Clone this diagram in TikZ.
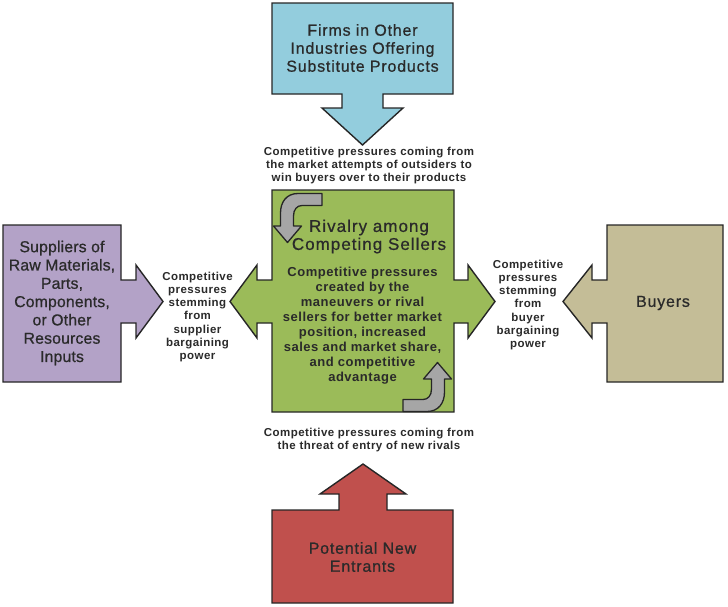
\documentclass[tikz,border=0pt]{standalone}
\usepackage{fontspec}
\setmainfont{Liberation Sans}
\newfontfamily\boxfont[LetterSpace=5,FakeBold=0.7]{Liberation Sans}
\newfontfamily\narrowboxfont[LetterSpace=1,FakeBold=0.7]{Liberation Sans}
\newfontfamily\titlefont[LetterSpace=6,FakeBold=0.7]{Liberation Sans}
\newfontfamily\bodyfont[LetterSpace=4]{Liberation Sans}
\newfontfamily\labfont[LetterSpace=4]{Liberation Sans}
\definecolor{cblue}{HTML}{93CDDD}
\definecolor{cpurple}{HTML}{B3A2C7}
\definecolor{cgreen}{HTML}{9BBB59}
\definecolor{ctan}{HTML}{C4BD97}
\definecolor{cred}{HTML}{C0504D}
\definecolor{cgrey}{HTML}{A6A6A6}
\definecolor{outl}{HTML}{262626}
\definecolor{txt}{HTML}{2A2A2A}
\begin{document}
\begin{tikzpicture}[x=1pt,y=-1pt,
  blockshape/.style={draw=outl, line width=1.4pt, line join=miter},
  bentarrow/.style={draw=outl, fill=cgrey, line width=1.3pt, line join=round},
  boxtext/.style={inner sep=0pt, align=center, text=txt, font=\boxfont\fontsize{16}{18}\selectfont},
  narrowboxtext/.style={inner sep=0pt, align=center, text=txt, font=\narrowboxfont\fontsize{15.8}{18.3}\selectfont},
  titletext/.style={inner sep=0pt, align=center, text=txt, font=\titlefont\fontsize{17}{18}\selectfont},
  bodytext/.style={inner sep=0pt, align=center, text=txt, font=\bodyfont\bfseries\fontsize{13}{15}\selectfont},
  labeltext/.style={inner sep=0pt, align=center, text=txt, font=\labfont\bfseries\fontsize{11.5}{13.3}\selectfont}]
\useasboundingbox (0,0) rectangle (728,606);

% substitutes (top)
\path[blockshape, fill=cblue] (272,3) -- (453,3) -- (453,94) -- (383,94) -- (383,108) -- (403,108)
  -- (362.5,145) -- (322,108) -- (342,108) -- (342,94) -- (272,94) -- cycle;
% new entrants (bottom)
\path[blockshape, fill=cred] (272,603) -- (453,603) -- (453,510) -- (387,510) -- (387,494) -- (406,494)
  -- (363,464) -- (320,494) -- (339,494) -- (339,510) -- (272,510) -- cycle;
% suppliers (left)
\path[blockshape, fill=cpurple] (3,225) -- (121,225) -- (121,280) -- (136,280) -- (136,265) -- (163,301.5)
  -- (136,338) -- (136,323) -- (121,323) -- (121,382) -- (3,382) -- cycle;
% buyers (right)
\path[blockshape, fill=ctan] (723,225) -- (607,225) -- (607,280) -- (592,280) -- (592,265) -- (563,301.5)
  -- (592,338) -- (592,323) -- (607,323) -- (607,382) -- (723,382) -- cycle;
% rivalry (centre)
\path[blockshape, fill=cgreen] (272,190) -- (454,190) -- (454,280) -- (468,280) -- (468,265) -- (495,301.5)
  -- (468,338) -- (468,323) -- (454,323) -- (454,412) -- (272,412) -- (272,323) -- (257,323) -- (257,338)
  -- (230,301.5) -- (257,265) -- (257,280) -- (272,280) -- cycle;

% bent arrows
\path[bentarrow] (322,193.5) -- (298,193.5) .. controls (286.5,193.5) and (280.5,202) .. (280.5,213) -- (280.5,226)
  -- (273.5,226) -- (287.5,242.5) -- (301.5,226) -- (293.5,226) -- (293.5,216) .. controls (293.5,209.5) and (297,205.5) .. (302,205.5)
  -- (322,205.5) -- cycle;
\begin{scope}[rotate around={180:(362.5,302.5)}]
\path[bentarrow] (322,193.5) -- (298,193.5) .. controls (286.5,193.5) and (280.5,202) .. (280.5,213) -- (280.5,226)
  -- (273.5,226) -- (287.5,242.5) -- (301.5,226) -- (293.5,226) -- (293.5,216) .. controls (293.5,209.5) and (297,205.5) .. (302,205.5)
  -- (322,205.5) -- cycle;
\end{scope}

% texts
\node[boxtext] (subst) at (362.5,48) {Firms in Other\\Industries Offering\\Substitute Products};
\node[narrowboxtext] (suppl) at (62,303) {Suppliers of\\Raw Materials,\\Parts,\\Components,\\or Other\\Resources\\Inputs};
\node[boxtext] (buyers) at (663,303) {Buyers};
\node[boxtext] (entr) at (362.5,557) {Potential New\\Entrants};
\node[titletext] (rival) at (369,236.5) {Rivalry among\\Competing Sellers};
\node[bodytext] (rivbody) at (362.5,326) {Competitive pressures\\created by the\\maneuvers or rival\\sellers for better market\\position, increased\\sales and market share,\\and competitive\\advantage};
\node[labeltext] (ltop) at (369,165.5) {Competitive pressures coming from\\the market attempts of outsiders to\\win buyers over to their products};
\node[labeltext] (lbot) at (369,440) {Competitive pressures coming from\\the threat of entry of new rivals};
\node[labeltext] (lleft) at (197.5,317) {Competitive\\pressures\\stemming\\from\\supplier\\bargaining\\power};
\node[labeltext] (lright) at (528,305) {Competitive\\pressures\\stemming\\from\\buyer\\bargaining\\power};
\end{tikzpicture}
\end{document}
